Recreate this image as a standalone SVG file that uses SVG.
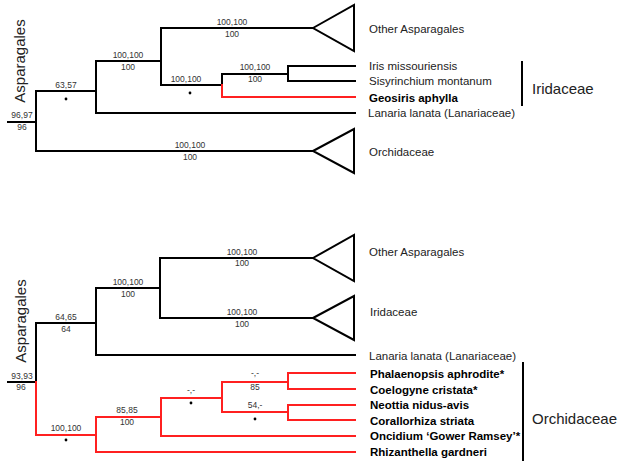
<svg xmlns="http://www.w3.org/2000/svg" width="618" height="464" viewBox="0 0 618 464">
<style>
.k{fill:none;stroke:#000;stroke-width:2;stroke-linecap:square}
.r{fill:none;stroke:#ff2020;stroke-width:2;stroke-linecap:square}
.tri{fill:#fff;stroke:#000;stroke-width:2;stroke-linejoin:miter}
.bl{font-family:"Liberation Sans",Arial,sans-serif;font-size:8.5px;fill:#333;text-anchor:middle}
.tx{font-family:"Liberation Sans",Arial,sans-serif;font-size:11.5px;fill:#222}
.b{font-weight:bold;fill:#000}
.big{font-family:"Liberation Sans",Arial,sans-serif;font-size:15px;fill:#222}
.dot{fill:#000}
</style>
<rect width="618" height="464" fill="#fff"/>

<g id="connectors">
<!-- top tree -->
<path class="k" d="M8 122H36M36 91V151M36 91H96M96 61V113M96 61H161M161 28V85M161 28H313M161 85H222M222 74V85M222 74H288M288 66V81M288 66H355M288 81H355M96 113H355M36 151H313"/>
<path class="r" d="M222 85V97H355"/>
<!-- bottom tree -->
<path class="k" d="M8 382H36M36 323V382M36 323H96M96 288V355M96 288H160M160 258V318M160 258H313M160 318H313M96 355H355"/>
<path class="r" d="M36 382V435H96M96 417V452M96 417H161M96 452H355M161 398V436M161 436H355M161 398H222M222 382V412M222 382H288M222 412H288M288 373V389M288 373H355M288 389H355M288 405V420M288 405H355M288 420H355"/>
</g>

<g id="triangles">
<polygon class="tri" points="313,28 354,5 354,51"/>
<polygon class="tri" points="313,151 354,129 354,173"/>
<polygon class="tri" points="313,258 354,235 354,281"/>
<polygon class="tri" points="313,318 354,296 354,340"/>
</g>

<g id="branch-labels">
<text class="bl" x="22" y="118">96,97</text><text class="bl" x="22" y="130">96</text>
<text class="bl" x="66" y="88">63,57</text><circle class="dot" cx="66" cy="99" r="1.4"/>
<text class="bl" x="128" y="58">100,100</text><text class="bl" x="128" y="70">100</text>
<text class="bl" x="232" y="25">100,100</text><text class="bl" x="232" y="37">100</text>
<text class="bl" x="186" y="82">100,100</text><circle class="dot" cx="190" cy="93" r="1.4"/>
<text class="bl" x="255" y="70">100,100</text><text class="bl" x="255" y="82">100</text>
<text class="bl" x="190" y="148">100,100</text><text class="bl" x="190" y="160">100</text>

<text class="bl" x="22" y="379">93,93</text><text class="bl" x="21" y="390">96</text>
<text class="bl" x="66" y="320">64,65</text><text class="bl" x="66" y="332">64</text>
<text class="bl" x="128" y="285">100,100</text><text class="bl" x="128" y="297">100</text>
<text class="bl" x="242" y="255">100,100</text><text class="bl" x="242" y="266">100</text>
<text class="bl" x="242" y="315">100,100</text><text class="bl" x="242" y="327">100</text>
<text class="bl" x="66" y="431">100,100</text><circle class="dot" cx="66" cy="440" r="1.4"/>
<text class="bl" x="127" y="413">85,85</text><text class="bl" x="127" y="425">100</text>
<text class="bl" x="191" y="393">-,-</text><circle class="dot" cx="191" cy="403" r="1.4"/>
<text class="bl" x="255" y="376">-,-</text><text class="bl" x="255" y="390">85</text>
<text class="bl" x="255" y="408">54,-</text><circle class="dot" cx="255" cy="419" r="1.4"/>
</g>

<g id="tip-labels">
<text class="tx" x="369" y="33">Other Asparagales</text>
<text class="tx" x="369" y="70">Iris missouriensis</text>
<text class="tx" x="369" y="85">Sisyrinchium montanum</text>
<text class="tx b" x="369" y="102">Geosiris aphylla</text>
<text class="tx" x="368" y="117">Lanaria lanata (Lanariaceae)</text>
<text class="tx" x="369" y="156">Orchidaceae</text>

<text class="tx" x="369" y="256">Other Asparagales</text>
<text class="tx" x="370" y="316">Iridaceae</text>
<text class="tx" x="369" y="360">Lanaria lanata (Lanariaceae)</text>
<text class="tx b" x="370" y="378">Phalaenopsis aphrodite*</text>
<text class="tx b" x="370" y="394">Coelogyne cristata*</text>
<text class="tx b" x="370" y="409">Neottia nidus-avis</text>
<text class="tx b" x="370" y="425">Corallorhiza striata</text>
<text class="tx b" x="370" y="440">Oncidium ‘Gower Ramsey’*</text>
<text class="tx b" x="370" y="456">Rhizanthella gardneri</text>
</g>

<g id="clades">
<path class="k" d="M522 62V105M523 363V460"/>
<text class="big" x="532" y="94">Iridaceae</text>
<text class="big" x="532" y="424">Orchidaceae</text>
<text class="big" transform="translate(25 61) rotate(-90)" text-anchor="middle">Asparagales</text>
<text class="big" transform="translate(26 321) rotate(-90)" text-anchor="middle">Asparagales</text>
</g>
</svg>
